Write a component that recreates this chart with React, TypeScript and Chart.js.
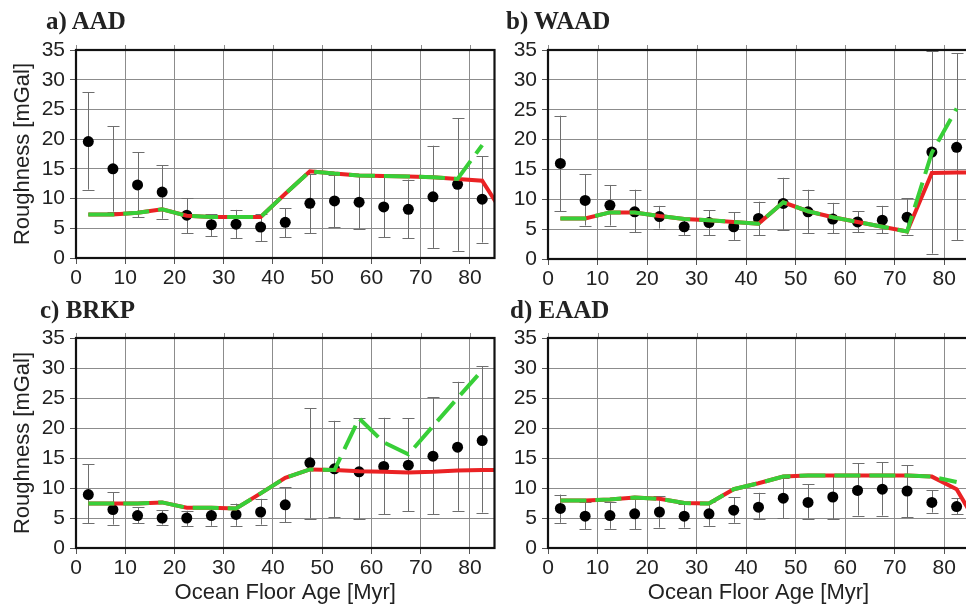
import React, { useEffect, useRef } from "react";
import { Chart, registerables } from "chart.js";

Chart.register(...registerables);

// ---------- data ----------
const ageBins = [2.5, 7.5, 12.5, 17.5, 22.5, 27.5, 32.5, 37.5, 42.5, 47.5, 52.5, 57.5, 62.5, 67.5, 72.5, 77.5, 82.5];
const modelAges = [2.5, 7.5, 12.5, 17.5, 22.5, 27.5, 32.5, 37.5, 42.5, 47.5, 52.5, 57.5, 62.5, 67.5, 72.5, 77.5, 82.5, 87.5];
const xTicks = [0, 10, 20, 30, 40, 50, 60, 70, 80];
const yTicks = [0, 5, 10, 15, 20, 25, 30, 35];

// a) AAD
const aadMean = [19.6, 15.0, 12.3, 11.1, 7.2, 5.6, 5.7, 5.2, 6.0, 9.2, 9.6, 9.4, 8.6, 8.2, 10.3, 12.4, 9.9];
const aadLow = [11.5, 7.8, 6.9, 6.6, 4.2, 3.7, 3.3, 2.8, 3.5, 4.2, 5.2, 4.9, 3.5, 3.3, 1.7, 1.2, 2.6];
const aadHigh = [27.9, 22.2, 17.8, 15.6, 10.1, 7.4, 8.1, 7.4, 8.4, 14.1, 14.0, 13.8, 13.6, 13.2, 18.9, 23.5, 17.1];
const aadRed = [7.3, 7.3, 7.6, 8.2, 7.1, 6.9, 6.9, 6.9, 10.8, 14.6, 14.2, 13.9, 13.8, 13.7, 13.6, 13.3, 13.0, 6.5];
const aadGreen = [7.3, 7.3, 7.6, 8.2, 7.1, 6.9, 6.9, 6.9, 10.8, 14.6, 14.2, 13.9, 13.8, 13.7, 13.6, 13.3, 19.0];

// b) WAAD
const waadMean = [16.0, 9.8, 9.0, 7.9, 7.1, 5.4, 6.1, 5.4, 6.8, 9.3, 7.9, 6.7, 6.2, 6.5, 7.0, 17.9, 18.7];
const waadLow = [8.0, 5.6, 5.6, 4.5, 5.1, 4.0, 4.0, 3.2, 4.0, 4.9, 4.3, 4.3, 4.5, 4.3, 4.1, 0.9, 3.2];
const waadHigh = [24.0, 14.2, 12.4, 11.6, 8.9, 6.9, 8.2, 7.8, 9.6, 13.6, 11.6, 9.4, 8.0, 8.9, 10.2, 34.8, 34.5];
const waadRed = [6.8, 6.8, 7.8, 7.8, 7.2, 6.7, 6.5, 6.2, 5.9, 9.5, 8.0, 7.0, 6.2, 5.4, 4.6, 14.4, 14.5, 14.5];
const waadGreen = [6.8, 6.8, 7.8, 7.8, 7.2, 6.7, 6.5, 6.2, 5.9, 9.5, 8.0, 7.0, 6.2, 5.4, 4.6, 17.8, 25.2];

// c) BRKP
const brkpMean = [8.9, 6.4, 5.4, 5.0, 5.0, 5.4, 5.6, 6.0, 7.2, 14.2, 13.2, 12.7, 13.6, 13.8, 15.3, 16.8, 17.9];
const brkpLow = [4.1, 3.9, 4.1, 3.9, 3.7, 3.7, 3.7, 3.9, 4.3, 4.9, 5.1, 4.8, 5.6, 6.1, 5.6, 6.2, 5.9];
const brkpHigh = [14.0, 9.3, 6.8, 6.3, 6.2, 6.9, 7.4, 8.2, 10.1, 23.3, 21.2, 21.6, 21.7, 21.6, 25.1, 27.7, 30.3];
const brkpRed = [7.4, 7.4, 7.4, 7.6, 6.7, 6.7, 6.6, 9.1, 11.7, 13.1, 13.0, 12.8, 12.7, 12.6, 12.7, 12.9, 13.0, 13.0];
const brkpGreen = [7.4, 7.4, 7.4, 7.6, 6.7, 6.7, 6.6, 9.1, 11.7, 13.1, 13.0, 21.6, 17.6, 15.6, 20.3, 25.0, 29.6];

// d) EAAD
const eaadMean = [6.6, 5.3, 5.4, 5.7, 6.0, 5.3, 5.7, 6.3, 6.8, 8.3, 7.6, 8.5, 9.6, 9.8, 9.5, 7.6, 6.9];
const eaadLow = [4.2, 3.1, 3.2, 3.1, 3.4, 3.4, 3.7, 4.2, 4.8, 5.0, 4.9, 4.8, 5.4, 5.4, 5.1, 5.9, 5.6];
const eaadHigh = [8.9, 7.6, 7.7, 8.2, 8.6, 7.3, 7.6, 8.5, 9.2, 11.6, 10.6, 12.1, 14.1, 14.3, 13.8, 9.6, 8.3];
const eaadRed = [7.9, 7.9, 8.1, 8.4, 8.2, 7.5, 7.4, 9.8, 10.8, 11.9, 12.1, 12.1, 12.1, 12.1, 12.1, 11.9, 9.8, 2.8];
const eaadGreen = [7.9, 7.9, 8.1, 8.4, 8.2, 7.5, 7.4, 9.8, 10.8, 11.9, 12.1, 12.1, 12.1, 12.1, 12.1, 11.9, 11.0];

const panelLabels = ["a) AAD", "b) WAAD", "c) BRKP", "d) EAAD"];
const yAxisTitle = "Roughness [mGal]";
const xAxisTitle = "Ocean Floor Age [Myr]";

// ---------- styling ----------
const SANS = "'Liberation Sans', Arial, Helvetica, sans-serif";
const RED = "#ea2224";
const GREEN = "#38cf38";
const GRID = "#8c8c8c";
const TEXT = "#222";

type Rect = { left: number; top: number; width: number; height: number };
type Area = { left: number; top: number; right: number; bottom: number };

type PanelProps = {
  label: string;
  labelPos: { left: number; top: number };
  mean: number[];
  low: number[];
  high: number[];
  red: number[];
  green: number[];
  canvas: Rect;
  area: Area;
  showY: boolean;
  showX: boolean;
};

function Panel(p: PanelProps) {
  const ref = useRef<HTMLCanvasElement | null>(null);

  useEffect(() => {
    if (!ref.current) return;
    const yW = p.area.left - p.canvas.left;
    const padTop = p.area.top - p.canvas.top;
    const padRight = p.canvas.left + p.canvas.width - p.area.right;
    const xH = p.canvas.top + p.canvas.height - p.area.bottom;

    const errPlugin = {
      id: "errbars",
      beforeDatasetsDraw(chart: any) {
        const { ctx, scales } = chart;
        const xs = scales.x;
        const ys = scales.y;
        ctx.save();
        ctx.strokeStyle = "#6e6e6e";
        ctx.lineWidth = 1;
        ageBins.forEach((a, i) => {
          const px = Math.round(xs.getPixelForValue(a)) + 0.5;
          const y1 = ys.getPixelForValue(p.low[i]);
          const y2 = ys.getPixelForValue(p.high[i]);
          ctx.beginPath();
          ctx.moveTo(px, y1);
          ctx.lineTo(px, y2);
          ctx.moveTo(px - 6, Math.round(y1) + 0.5);
          ctx.lineTo(px + 6, Math.round(y1) + 0.5);
          ctx.moveTo(px - 6, Math.round(y2) + 0.5);
          ctx.lineTo(px + 6, Math.round(y2) + 0.5);
          ctx.stroke();
        });
        ctx.restore();
      },
    };

    const framePlugin = {
      id: "frame",
      afterDraw(chart: any) {
        const { ctx, chartArea, scales } = chart;
        ctx.save();
        ctx.strokeStyle = GRID;
        ctx.lineWidth = 1;
        xTicks.forEach((t) => {
          const px = Math.round(scales.x.getPixelForValue(t)) + 0.5;
          ctx.beginPath();
          ctx.moveTo(px, chartArea.top - 5);
          ctx.lineTo(px, chartArea.top);
          ctx.stroke();
        });
        ctx.strokeStyle = "#111";
        ctx.lineWidth = 2.2;
        ctx.strokeRect(chartArea.left, chartArea.top, chartArea.right - chartArea.left, chartArea.bottom - chartArea.top);
        ctx.restore();
      },
    };

    const chart = new Chart(ref.current, {
      type: "scatter",
      data: {
        datasets: [
          {
            label: "observed",
            data: ageBins.map((a, i) => ({ x: a, y: p.mean[i] })),
            pointRadius: 5.5,
            pointBackgroundColor: "#000",
            pointBorderWidth: 0,
            showLine: false,
            order: 3,
          },
          {
            label: "model",
            data: modelAges.map((a, i) => ({ x: a, y: p.red[i] })),
            showLine: true,
            borderColor: RED,
            borderWidth: 4,
            pointRadius: 0,
            fill: false,
            clip: 0,
            order: 2,
          },
          {
            label: "model 2",
            data: ageBins.map((a, i) => ({ x: a, y: p.green[i] })),
            showLine: true,
            borderColor: GREEN,
            borderWidth: 4,
            borderDash: [26, 9],
            pointRadius: 0,
            fill: false,
            clip: 0,
            order: 1,
          },
        ],
      },
      options: {
        responsive: false,
        animation: false,
        events: [],
        layout: { padding: { top: padTop, right: padRight, left: 0, bottom: 0 } },
        plugins: { legend: { display: false }, tooltip: { enabled: false } },
        scales: {
          x: {
            type: "linear",
            min: 0,
            max: 85,
            afterBuildTicks: (s: any) => {
              s.ticks = xTicks.map((v) => ({ value: v }));
            },
            afterFit: (s: any) => {
              s.height = xH;
            },
            ticks: {
              autoSkip: false,
              maxRotation: 0,
              padding: 2,
              color: TEXT,
              font: { family: SANS, size: 21 },
            },
            grid: { color: GRID, lineWidth: 1, tickLength: 6, tickColor: "#555" },
            border: { display: false },
            title: {
              display: p.showX,
              text: xAxisTitle,
              color: TEXT,
              font: { family: SANS, size: 22 },
              padding: { top: 0, bottom: 1 },
            },
          },
          y: {
            type: "linear",
            min: 0,
            max: 35,
            afterBuildTicks: (s: any) => {
              s.ticks = yTicks.map((v) => ({ value: v }));
            },
            afterFit: (s: any) => {
              s.width = yW;
            },
            ticks: {
              autoSkip: false,
              padding: 5,
              color: TEXT,
              font: { family: SANS, size: 21 },
            },
            grid: { color: GRID, lineWidth: 1, tickLength: 6, tickColor: "#555" },
            border: { display: false },
            title: {
              display: p.showY,
              text: yAxisTitle,
              color: TEXT,
              font: { family: SANS, size: 22 },
              padding: { top: 10, bottom: 0 },
            },
          },
        },
      },
      plugins: [errPlugin, framePlugin],
    } as any);
    return () => chart.destroy();
  }, []);

  return (
    <>
      <canvas
        ref={ref}
        width={p.canvas.width}
        height={p.canvas.height}
        style={{ position: "absolute", left: p.canvas.left, top: p.canvas.top, width: p.canvas.width, height: p.canvas.height }}
      />
      <div
        style={{
          position: "absolute",
          left: p.labelPos.left,
          top: p.labelPos.top,
          fontFamily: "'Liberation Serif', 'Times New Roman', serif",
          fontWeight: "bold",
          fontSize: 25,
          lineHeight: "25px",
          color: TEXT,
          whiteSpace: "nowrap",
        }}
      >
        {p.label}
      </div>
    </>
  );
}

export default function App() {
  return (
    <div
      style={{
        position: "fixed",
        left: 0,
        top: 0,
        width: 966,
        height: 607,
        overflow: "hidden",
        background: "#fff",
      }}
    >
      <Panel
        label={panelLabels[0]}
        labelPos={{ left: 46, top: 8 }}
        mean={aadMean}
        low={aadLow}
        high={aadHigh}
        red={aadRed}
        green={aadGreen}
        canvas={{ left: 0, top: 0, width: 500, height: 300 }}
        area={{ left: 76, top: 50, right: 495, bottom: 258 }}
        showY={true}
        showX={false}
      />
      <Panel
        label={panelLabels[1]}
        labelPos={{ left: 506, top: 8 }}
        mean={waadMean}
        low={waadLow}
        high={waadHigh}
        red={waadRed}
        green={waadGreen}
        canvas={{ left: 500, top: 0, width: 500, height: 300 }}
        area={{ left: 548, top: 50, right: 969, bottom: 259 }}
        showY={false}
        showX={false}
      />
      <Panel
        label={panelLabels[2]}
        labelPos={{ left: 40, top: 297 }}
        mean={brkpMean}
        low={brkpLow}
        high={brkpHigh}
        red={brkpRed}
        green={brkpGreen}
        canvas={{ left: 0, top: 290, width: 500, height: 317 }}
        area={{ left: 76, top: 338, right: 495, bottom: 548 }}
        showY={true}
        showX={true}
      />
      <Panel
        label={panelLabels[3]}
        labelPos={{ left: 510, top: 297 }}
        mean={eaadMean}
        low={eaadLow}
        high={eaadHigh}
        red={eaadRed}
        green={eaadGreen}
        canvas={{ left: 500, top: 290, width: 500, height: 317 }}
        area={{ left: 548, top: 338, right: 969, bottom: 548 }}
        showY={false}
        showX={true}
      />
    </div>
  );
}
